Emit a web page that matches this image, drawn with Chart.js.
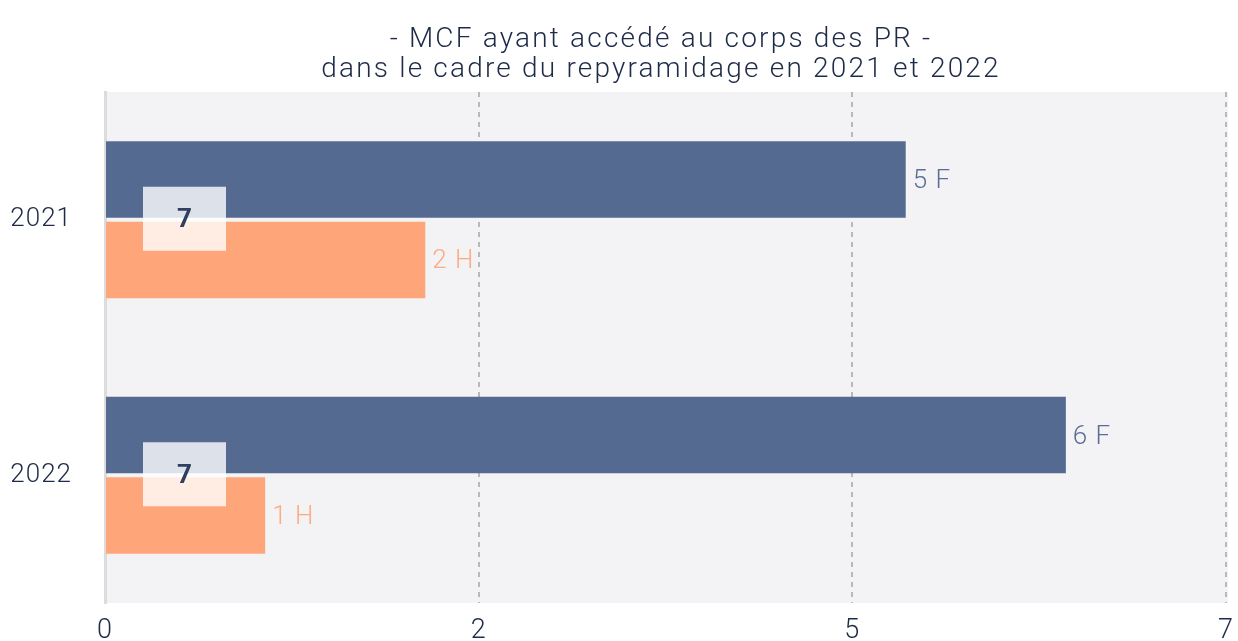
<!DOCTYPE html>
<html>
<head>
<meta charset="utf-8">
<script src="https://cdn.jsdelivr.net/npm/chart.js"></script>
<style>
  html, body { margin: 0; padding: 0; background: #fff; overflow: hidden; }
  canvas { display: block; }
</style>
</head>
<body>
<canvas id="repyChart" width="1238" height="641"></canvas>
<script>
  const titleLines = ["- MCF ayant accédé au corps des PR -", "dans le cadre du repyramidage en 2021 et 2022"];
  const years = ["2021", "2022"];
  const femmes = [5, 6];
  const hommes = [2, 1];
  const xTickLabels = ["0", "2", "5", "7"];
  const xMax = 7;

  const FONT = "Roboto, 'Liberation Sans', sans-serif";
  const INK = "#1e2b48";

  // light grey panel behind the bars, and a bit of tracking for all the text
  const panelBg = {
    id: "panelBg",
    beforeDraw(chart) {
      const a = chart.chartArea, ctx = chart.ctx;
      ctx.letterSpacing = "1px";
      ctx.save();
      ctx.fillStyle = "#f3f3f5";
      ctx.fillRect(a.left, a.top, a.right - a.left + 2, a.bottom - a.top);
      ctx.restore();
    }
  };

  // two-line heading, centred over the whole canvas
  const heading = {
    id: "heading",
    afterDraw(chart) {
      const ctx = chart.ctx;
      ctx.save();
      ctx.letterSpacing = "2.2px";
      ctx.font = "300 28px " + FONT;
      ctx.fillStyle = INK;
      ctx.textAlign = "center";
      ctx.textBaseline = "middle";
      titleLines.forEach((t, i) => ctx.fillText(t, 661, 40 + i * 30));
      ctx.restore();
    }
  };

  // "5 F", "2 H" after each bar, plus the total box for each year
  const barLabels = {
    id: "barLabels",
    afterDatasetsDraw(chart) {
      const ctx = chart.ctx;
      ctx.save();
      ctx.font = "300 26px " + FONT;
      ctx.textBaseline = "middle";
      ctx.textAlign = "left";
      chart.data.datasets.forEach((ds, di) => {
        chart.getDatasetMeta(di).data.forEach((bar, i) => {
          ctx.fillStyle = ds.labelColor;
          ctx.fillText(ds.data[i] + " " + ds.suffix, bar.x + 7, bar.y + 2);
        });
      });

      const xs = chart.scales.x, ys = chart.scales.y;
      years.forEach((y, i) => {
        const total = femmes[i] + hommes[i];
        const cx = xs.getPixelForValue(0) + 79;
        const cy = ys.getPixelForValue(i) - 1;
        ctx.fillStyle = "rgba(255,255,255,0.8)";
        ctx.fillRect(cx - 41, cy - 32, 83, 64);
        ctx.fillStyle = "#2f3f5f";
        ctx.font = "bold 26px " + FONT;
        ctx.textAlign = "center";
        ctx.fillText(String(total), cx + 1, cy + 2);
      });
      ctx.restore();
    }
  };

  new Chart(document.getElementById("repyChart"), {
    type: "bar",
    data: {
      labels: years,
      datasets: [
        {
          label: "F",
          suffix: "F",
          data: femmes,
          backgroundColor: "#556a91",
          labelColor: "#5a6d96",
          barPercentage: 0.95,
          categoryPercentage: 0.63
        },
        {
          label: "H",
          suffix: "H",
          data: hommes,
          backgroundColor: "#ffa57a",
          labelColor: "#ffab82",
          barPercentage: 0.95,
          categoryPercentage: 0.63
        }
      ]
    },
    options: {
      indexAxis: "y",
      responsive: false,
      animation: false,
      layout: { padding: { left: 0, right: 12, top: 92, bottom: 0 } },
      plugins: {
        legend: { display: false },
        tooltip: { enabled: false },
        title: { display: false }
      },
      scales: {
        x: {
          min: 0,
          max: xMax,
          afterFit(scale) {
            scale.height = 38;
            scale.paddingLeft = 0;
            scale.paddingRight = 0;
          },
          afterBuildTicks(scale) {
            scale.ticks = xTickLabels.map((_, i) => ({ value: i * xMax / (xTickLabels.length - 1) }));
          },
          ticks: {
            color: INK,
            font: { family: FONT, size: 27, weight: 300 },
            padding: 12,
            maxRotation: 0,
            callback: (v, i) => xTickLabels[i]
          },
          grid: {
            color: (c) => c.index === 0 ? "rgba(0,0,0,0)" : "#b9b9bc",
            lineWidth: 2,
            drawTicks: false
          },
          border: { display: false, dash: [5, 5] }
        },
        y: {
          afterFit(scale) {
            scale.width = 105;
            scale.paddingTop = 0;
            scale.paddingBottom = 0;
          },
          ticks: {
            color: INK,
            font: { family: FONT, size: 26, weight: 300 },
            padding: 33
          },
          grid: { display: false, drawTicks: false },
          border: { display: true, color: "#dcdcdf", width: 3 }
        }
      }
    },
    plugins: [panelBg, barLabels, heading]
  });
</script>
</body>
</html>
